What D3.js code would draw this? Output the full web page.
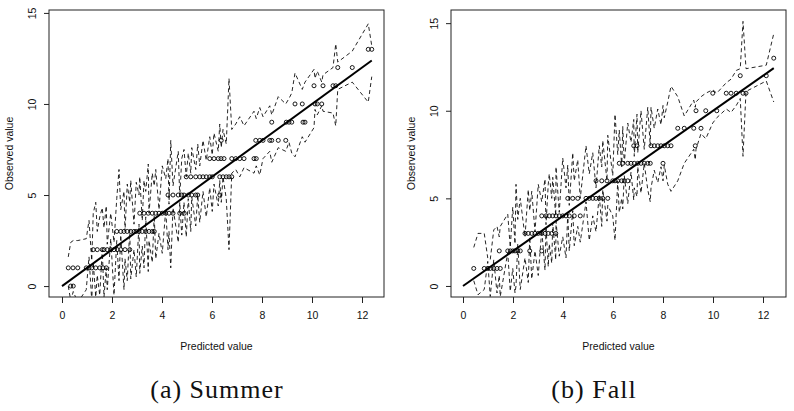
<!DOCTYPE html>
<html>
<head>
<meta charset="utf-8">
<script src="https://cdn.jsdelivr.net/npm/d3@7"></script>
<style>
  body { margin: 0; background: #fff; }
  svg { display: block; }
</style>
</head>
<body>
<script>
const WIDTH  = 794;
const HEIGHT = 411;

const xTicks = [0, 2, 4, 6, 8, 10, 12];
const yTicks = [0, 5, 10, 15];

// Summer: predicted / observed pairs
const summerPred = [0.35, 0.45, 0.25, 0.44, 0.63, 0.97, 1.08, 1.19, 1.35, 1.51, 1.64, 1.77,
  1.25, 1.41, 1.61, 1.68, 1.81, 1.95, 2.08, 2.21, 2.35, 2.52, 2.71,
  2.19, 2.35, 2.48, 2.61, 2.75, 2.88, 2.97, 3.08, 3.21, 3.35, 3.48, 3.61, 3.69,
  3.11, 3.28, 3.45, 3.61, 3.75, 3.88, 4.01, 4.15, 4.28, 4.44, 4.71, 4.89,
  4.24, 4.44, 4.65, 4.79, 4.88, 5.05, 5.19, 5.35, 5.43, 6.31,
  4.97, 5.15, 5.35, 5.51, 5.64, 5.77, 5.91, 6.01, 6.31, 6.44, 6.57, 6.68, 6.79,
  5.91, 6.08, 6.25, 6.36, 6.48, 6.79, 6.95, 7.11, 7.28, 7.68, 7.77,
  6.37, 7.75, 7.91, 8.04, 8.31, 8.39, 8.65, 8.95,
  8.39, 8.97, 9.08, 9.19, 9.64, 9.72,
  9.32, 9.61, 10.12, 10.21, 10.39,
  10.08, 10.44, 10.84, 10.95,
  11.03, 11.61,
  12.25, 12.39];
const summerObs = [0, 0, 1, 1, 1, 1, 1, 1, 1, 1, 1, 1,
  2, 2, 2, 2, 2, 2, 2, 2, 2, 2, 2,
  3, 3, 3, 3, 3, 3, 3, 3, 3, 3, 3, 3, 3,
  4, 4, 4, 4, 4, 4, 4, 4, 4, 4, 4, 4,
  5, 5, 5, 5, 5, 5, 5, 5, 5, 5,
  6, 6, 6, 6, 6, 6, 6, 6, 6, 6, 6, 6, 6,
  7, 7, 7, 7, 7, 7, 7, 7, 7, 7, 7,
  8, 8, 8, 8, 8, 8, 8, 8,
  9, 9, 9, 9, 9, 9,
  10, 10, 10, 10, 10,
  11, 11, 11, 11,
  12, 12,
  13, 13];

// Summer interval bounds (dashed lines)
const summerBandX = [0.25, 0.35, 0.45, 0.63, 0.97, 1.08, 1.19, 1.25, 1.35, 1.41, 1.51, 1.61, 1.68, 1.77, 1.81,
  1.95, 2.08, 2.19, 2.28, 2.35, 2.48, 2.52, 2.61, 2.71, 2.75, 2.88, 2.97, 3.08, 3.11, 3.21, 3.28,
  3.35, 3.45, 3.48, 3.61, 3.69, 3.75, 3.88, 4.01, 4.15, 4.24, 4.28, 4.35, 4.44, 4.65, 4.71, 4.79,
  4.88, 4.97, 5.05, 5.15, 5.19, 5.35, 5.43, 5.51, 5.64, 5.77, 5.91, 6.01, 6.08, 6.25, 6.31, 6.37,
  6.44, 6.57, 6.68, 6.79, 6.95, 7.11, 7.28, 7.68, 7.77, 7.91, 8.04, 8.31, 8.39, 8.65, 8.95, 9.08,
  9.19, 9.32, 9.61, 9.72, 10.08, 10.12, 10.21, 10.39, 10.44, 10.84, 10.95, 11.03, 11.61, 12.25, 12.39];
const summerHi = [1.6, 2.4, 2.5, 2.5, 2.6, 3.6, 1.4, 4.0, 4.6, 3.0, 3.8, 4.3, 3.2, 4.4, 2.3,
  4.0, 2.4, 4.8, 6.4, 4.2, 5.2, 3.0, 5.6, 4.6, 5.8, 3.4, 5.7, 5.0, 6.0, 3.6, 5.8,
  5.2, 6.7, 4.0, 6.2, 5.5, 6.4, 4.2, 6.6, 5.9, 7.0, 4.5, 8.0, 5.5, 7.4, 4.9, 7.0,
  7.5, 6.0, 7.3, 6.2, 7.6, 6.4, 7.8, 6.6, 8.0, 6.9, 8.2, 7.2, 8.4, 7.4, 8.9, 7.6,
  8.6, 7.8, 11.4, 8.6, 8.9, 9.3, 8.8, 9.6, 9.2, 9.8, 9.3, 9.9, 9.4, 10.4, 10.0, 10.3,
  10.6, 11.7, 10.8, 11.2, 11.9, 11.4, 11.8, 11.2, 11.6, 12.0, 13.3, 12.3, 12.9, 14.4, 13.2];
const summerLo = [0.0, -0.8, -0.3, -0.9, -0.2, 1.6, -0.8, 1.3, -0.6, 0.6, -0.5, 2.0, -0.6, 1.0, -0.2,
  2.6, -0.5, 2.5, 0.3, 2.8, -0.2, 1.5, 0.3, 3.1, 0.4, 2.0, 0.5, 3.4, 0.7, 2.2, 1.0,
  3.8, 0.8, 2.5, 1.3, 3.9, 1.5, 2.9, 1.8, 4.2, 2.0, 3.0, 1.0, 4.3, 2.4, 4.6, 2.8,
  4.6, 2.7, 4.8, 3.0, 4.9, 3.3, 5.0, 3.5, 5.2, 3.8, 5.4, 4.1, 5.6, 4.4, 5.8, 4.6,
  6.0, 4.8, 2.0, 6.2, 6.4, 6.0, 6.5, 6.2, 6.6, 6.1, 7.0, 7.4, 6.8, 7.6, 7.4, 7.9,
  7.3, 7.1, 8.2, 7.9, 8.7, 9.7, 9.4, 9.9, 9.6, 9.5, 8.8, 10.8, 11.2, 10.1, 11.5];

// Fall: predicted / observed pairs
const fallPred = [0.43, 0.85, 0.99, 1.09, 1.23, 1.36, 1.49,
  1.45, 1.79, 1.89, 1.99, 2.08, 2.19, 2.29, 2.67, 3.15,
  2.48, 2.61, 2.75, 2.88, 3.01, 3.15, 3.28, 3.41, 3.55, 3.71,
  3.15, 3.32, 3.45, 3.59, 3.72, 3.85, 3.99, 4.12, 4.25, 4.45, 4.69,
  4.19, 4.39, 4.59, 4.92, 5.05, 5.19, 5.32, 5.45, 5.59, 5.79,
  5.32, 5.55, 5.76, 5.99, 6.08, 6.19, 6.35, 6.45, 6.59,
  6.25, 6.39, 6.59, 6.72, 6.85, 6.99, 7.12, 7.25, 7.39, 7.49, 8.0,
  6.83, 6.96, 7.52, 7.65, 7.79, 7.92, 8.05, 8.19, 8.32, 9.29,
  8.59, 8.85, 9.23, 9.52,
  9.32, 9.71, 10.15,
  9.99, 10.53, 10.72, 10.93, 11.2, 11.32,
  11.09, 12.13,
  12.43];
const fallObs = [1, 1, 1, 1, 1, 1, 1,
  2, 2, 2, 2, 2, 2, 2, 2, 2,
  3, 3, 3, 3, 3, 3, 3, 3, 3, 3,
  4, 4, 4, 4, 4, 4, 4, 4, 4, 4, 4,
  5, 5, 5, 5, 5, 5, 5, 5, 5, 5,
  6, 6, 6, 6, 6, 6, 6, 6, 6,
  7, 7, 7, 7, 7, 7, 7, 7, 7, 7, 7,
  8, 8, 8, 8, 8, 8, 8, 8, 8, 8,
  9, 9, 9, 9,
  10, 10, 10,
  11, 11, 11, 11, 11, 11,
  12, 12,
  13];

// Fall interval bounds (dashed lines)
const fallBandX = [0.43, 0.6, 0.85, 0.99, 1.09, 1.23, 1.36, 1.45, 1.49, 1.79, 1.89, 1.99, 2.08, 2.12, 2.19,
  2.29, 2.48, 2.61, 2.67, 2.75, 2.88, 3.01, 3.15, 3.28, 3.32, 3.41, 3.45, 3.55, 3.59, 3.71, 3.72,
  3.85, 3.99, 4.12, 4.19, 4.25, 4.39, 4.45, 4.59, 4.69, 4.92, 5.05, 5.19, 5.32, 5.45, 5.55, 5.59,
  5.76, 5.79, 5.99, 6.08, 6.19, 6.25, 6.35, 6.39, 6.45, 6.59, 6.72, 6.83, 6.85, 6.96, 6.99, 7.12,
  7.25, 7.39, 7.49, 7.52, 7.65, 7.79, 7.92, 8.0, 8.05, 8.19, 8.32, 8.59, 8.85, 9.23, 9.29, 9.32,
  9.52, 9.71, 9.99, 10.15, 10.53, 10.72, 10.93, 11.09, 11.2, 11.32, 12.13, 12.43];
const fallHi = [2.2, 3.0, 3.0, 1.6, 1.5, 3.2, 3.4, 2.8, 3.4, 4.1, 2.2, 4.5, 2.4, 5.8, 3.8,
  5.0, 2.8, 5.5, 4.3, 5.4, 3.1, 5.8, 4.8, 6.1, 3.5, 5.8, 6.4, 5.0, 6.2, 4.0, 6.8,
  4.2, 7.3, 5.6, 6.9, 4.6, 7.6, 6.0, 7.2, 5.0, 8.0, 6.4, 7.6, 5.6, 8.0, 6.8, 8.3,
  6.0, 8.6, 6.3, 9.8, 7.5, 8.9, 6.8, 9.1, 7.0, 9.3, 8.2, 9.5, 7.4, 9.8, 7.6, 10.0,
  7.8, 10.2, 8.0, 10.2, 9.0, 10.1, 9.2, 10.3, 9.6, 10.5, 11.4, 10.8, 9.7, 10.6, 10.2, 10.5,
  10.8, 11.0, 11.2, 11.0, 11.6, 11.8, 12.3, 12.4, 15.1, 12.4, 12.6, 14.4];
const fallLo = [0.3, -0.5, -0.2, 1.4, -0.6, 1.5, -0.4, 0.6, -0.6, 1.9, -0.3, 1.0, -0.4, 0.0, 2.4,
  -0.2, 1.6, 0.2, 2.8, 0.4, 2.0, 0.6, 3.2, 0.9, 3.4, 1.1, 2.4, 1.3, 3.6, 1.5, 3.7,
  1.7, 2.8, 1.6, 4.1, 2.0, 4.3, 2.3, 3.4, 2.5, 4.8, 2.6, 4.0, 3.1, 5.2, 3.4, 5.5,
  3.7, 4.6, 4.0, 2.6, 6.0, 4.2, 5.0, 4.4, 6.3, 4.7, 6.5, 4.9, 5.6, 5.1, 6.8, 5.3,
  7.0, 5.5, 4.8, 5.6, 6.6, 5.9, 6.8, 6.0, 6.9, 5.8, 5.4, 6.0, 7.0, 7.8, 7.2, 7.8,
  8.7, 8.4, 9.3, 9.6, 10.1, 9.9, 10.3, 10.7, 7.4, 11.1, 11.7, 10.5];

// Panel boxes in pixels and the data range they cover
const panels = [
  { id: "summer", caption: "(a) Summer", pred: summerPred, obs: summerObs,
    bandX: summerBandX, hi: summerHi, lo: summerLo,
    left: 49, right: 384, top: 10, bottom: 297,
    xDom: [-0.52, 12.88], yDom: [-0.6, 15.16], capX: 217 },
  { id: "fall", caption: "(b) Fall", pred: fallPred, obs: fallObs,
    bandX: fallBandX, hi: fallHi, lo: fallLo,
    left: 451, right: 786, top: 10, bottom: 297,
    xDom: [-0.48, 12.92], yDom: [-0.63, 15.75], capX: 594 }
];

const svg = d3.select("body").append("svg")
  .attr("width", WIDTH)
  .attr("height", HEIGHT);

const AXIS_FONT = "'Liberation Sans', Arial, Helvetica, sans-serif";

function drawPanel(p) {
  const xScale = d3.scaleLinear().domain(p.xDom).range([p.left, p.right]);
  const yScale = d3.scaleLinear().domain(p.yDom).range([p.bottom, p.top]);

  // clip to the plot box like R does
  svg.append("clipPath").attr("id", "clip-" + p.id)
    .append("rect")
      .attr("x", p.left).attr("y", p.top)
      .attr("width", p.right - p.left).attr("height", p.bottom - p.top);

  const g = svg.append("g").attr("clip-path", "url(#clip-" + p.id + ")");

  // dashed interval lines
  const band = p.bandX.map((x, i) => ({ x: x, hi: p.hi[i], lo: p.lo[i] }));
  ["hi", "lo"].forEach(key => {
    g.append("path")
      .datum(band)
      .attr("fill", "none")
      .attr("stroke", "#000")
      .attr("stroke-width", 0.85)
      .attr("stroke-dasharray", "4,3")
      .attr("d", d3.line().x(d => xScale(d.x)).y(d => yScale(d[key])));
  });

  // observed vs predicted points
  g.selectAll("circle")
    .data(p.pred.map((x, i) => ({ x: x, y: p.obs[i] })))
    .enter()
    .append("circle")
      .attr("cx", d => xScale(d.x))
      .attr("cy", d => yScale(d.y))
      .attr("r", 2)
      .attr("fill", "none")
      .attr("stroke", "#000")
      .attr("stroke-width", 0.9);

  // y = x reference line up to the largest prediction
  const maxPred = d3.max(p.pred);
  g.append("path")
    .datum([0, maxPred])
    .attr("fill", "none")
    .attr("stroke", "#000")
    .attr("stroke-width", 2)
    .attr("d", d3.line().x(d => xScale(d)).y(d => yScale(d)));

  // box
  svg.append("rect")
    .attr("x", p.left).attr("y", p.top)
    .attr("width", p.right - p.left).attr("height", p.bottom - p.top)
    .attr("fill", "none")
    .attr("stroke", "#222")
    .attr("stroke-width", 1);

  // axes, R style
  const xAxis = svg.append("g")
    .attr("transform", "translate(0," + p.bottom + ")")
    .call(d3.axisBottom(xScale).tickValues(xTicks).tickSize(6).tickPadding(9));
  const yAxis = svg.append("g")
    .attr("transform", "translate(" + p.left + ",0)")
    .call(d3.axisLeft(yScale).tickValues(yTicks).tickSize(5).tickPadding(4));
  [xAxis, yAxis].forEach(a => {
    a.select(".domain").remove();
    a.selectAll("line").attr("stroke", "#222");
    a.selectAll("text")
      .attr("fill", "#111")
      .style("font-family", AXIS_FONT)
      .style("font-size", "10.5px");
  });
  // rotate y tick labels
  yAxis.selectAll(".tick text")
    .attr("x", null).attr("dy", null)
    .attr("text-anchor", "middle")
    .attr("transform", "translate(-13,0) rotate(-90)");

  // axis titles
  svg.append("text")
    .attr("x", (p.left + p.right) / 2)
    .attr("y", 350)
    .attr("text-anchor", "middle")
    .style("font-family", AXIS_FONT)
    .style("font-size", "10.5px")
    .attr("fill", "#111")
    .text("Predicted value");
  svg.append("text")
    .attr("transform", "translate(" + (p.left - 36) + "," + ((p.top + p.bottom) / 2) + ") rotate(-90)")
    .attr("text-anchor", "middle")
    .style("font-family", AXIS_FONT)
    .style("font-size", "10.5px")
    .attr("fill", "#111")
    .text("Observed value");

  // sub-figure caption
  svg.append("text")
    .attr("x", p.capX)
    .attr("y", 398)
    .attr("text-anchor", "middle")
    .style("font-family", "'Liberation Serif', 'Times New Roman', serif")
    .style("font-size", "26px")
    .style("letter-spacing", "1px")
    .attr("fill", "#111")
    .text(p.caption);
}

panels.forEach(drawPanel);
</script>
</body>
</html>
